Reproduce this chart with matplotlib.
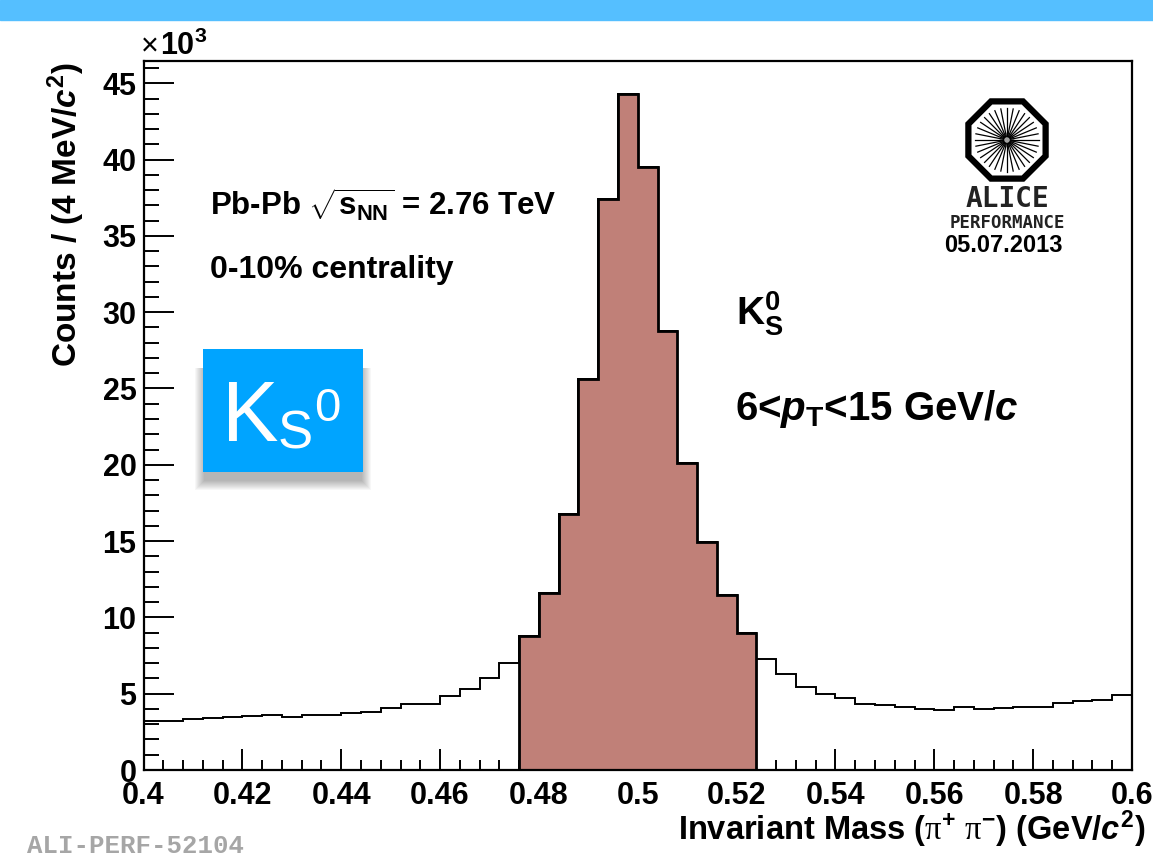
import numpy as np
import matplotlib
matplotlib.use("Agg")
import matplotlib.pyplot as plt
from matplotlib import patches

plt.rcParams['font.family'] = ['Liberation Sans', 'DejaVu Sans']
plt.rcParams['mathtext.fontset'] = 'custom'
plt.rcParams['mathtext.rm'] = 'Liberation Sans:bold'
plt.rcParams['mathtext.bf'] = 'Liberation Sans:bold'
plt.rcParams['mathtext.it'] = 'Liberation Sans:italic:bold'
plt.rcParams['mathtext.sf'] = 'Liberation Serif'

# histogram: invariant mass 0.4 - 0.6 GeV/c2, 4 MeV bins, counts in units of 10^3
mass_lo = 0.4
mass_hi = 0.6
n_bins = 50
counts = [3.21, 3.23, 3.32, 3.38, 3.45, 3.51, 3.60, 3.50, 3.60, 3.60,
          3.76, 3.82, 4.08, 4.32, 4.32, 4.85, 5.31, 6.03, 6.99, 8.80,
          11.58, 16.8, 25.65, 37.42, 44.3, 39.5, 28.78, 20.14, 14.95, 11.44,
          8.95, 7.29, 6.29, 5.44, 5.00, 4.70, 4.32, 4.24, 4.15, 4.02,
          3.95, 4.13, 4.00, 4.08, 4.15, 4.13, 4.41, 4.50, 4.59, 4.94]
# signal window (filled bins)
sig_first, sig_last = 19, 30

W, H = 1153, 866
fig = plt.figure(figsize=(W / 100, H / 100), dpi=100)

def fx(x):
    return x / W

def fy(y):
    return 1 - y / H

# top banner
fig.patches.append(patches.Rectangle((0, fy(20)), 1, 20 / H, transform=fig.transFigure,
                                     color='#55bfff', zorder=0))

ax = fig.add_axes([fx(143.5), fy(770), fx(1132) - fx(143.5), fy(61) - fy(770)])

edges = np.linspace(mass_lo, mass_hi, n_bins + 1)
counts = np.array(counts)
ax.stairs(counts, edges, color='black', lw=1.4, baseline=0)
ax.stairs(counts[sig_first:sig_last + 1], edges[sig_first:sig_last + 2],
          fill=True, color='#c08078', zorder=2)
ax.stairs(counts[sig_first:sig_last + 1], edges[sig_first:sig_last + 2],
          color='black', lw=2.0, zorder=3, baseline=0)

ax.set_xlim(mass_lo, mass_hi)
ax.set_ylim(0, 46.46)
ax.set_xticks(np.arange(0.40, 0.6001, 0.02))
ax.set_xticklabels(['0.4', '0.42', '0.44', '0.46', '0.48', '0.5', '0.52',
                    '0.54', '0.56', '0.58', '0.6'])
ax.set_xticks(np.arange(0.40, 0.6001, 0.004), minor=True)
ax.set_yticks(np.arange(0, 46, 5))
ax.set_yticks(np.arange(0, 47, 1), minor=True)
ax.tick_params(axis='both', which='both', direction='in', width=1.4,
               labelsize=22, top=False, right=False)
ax.tick_params(axis='x', which='major', length=15, pad=8)
ax.tick_params(axis='x', which='minor', length=7.5)
ax.tick_params(axis='y', which='major', length=21.5, pad=5)
ax.tick_params(axis='y', which='minor', length=11)
for lab in ax.get_xticklabels() + ax.get_yticklabels():
    lab.set_fontweight('bold')
for s in ax.spines.values():
    s.set_linewidth(1.6)

# axis titles
fig.text(fx(1145), fy(840), r"Invariant Mass ($\mathsf{\pi}^{+}$ $\mathsf{\pi}^{\mathrm{-}}$) (GeV/$c^{2}$)",
         ha='right', va='baseline', fontsize=23.5, fontweight='bold')
fig.text(fx(66), fy(62), r"Counts / (4 MeV/$c^{2}$)", rotation=90,
         ha='center', va='top', fontsize=24, fontweight='bold')
fig.text(fx(141), fy(55), "\u00d7", ha='left', va='baseline', fontsize=22)
fig.text(fx(160), fy(55), r"10$^{\mathrm{3}}$", ha='left', va='baseline',
         fontsize=22, fontweight='bold')

# labels inside
fig.text(fx(210), fy(216), r"Pb-Pb $\sqrt{\mathrm{s}_{\mathrm{NN}}}$ = 2.76 TeV",
         ha='left', va='baseline', fontsize=22.5, fontweight='bold')
fig.text(fx(210), fy(278), "0-10% centrality", ha='left', va='baseline',
         fontsize=23, fontweight='bold')
fig.text(fx(736), fy(325), r"K$^{\mathrm{0}}_{\mathrm{S}}$", ha='left', va='baseline',
         fontsize=28, fontweight='bold')
fig.text(fx(735), fy(420), r"6<$p_{\mathrm{T}}$<15 GeV/$c$", ha='left', va='baseline',
         fontsize=29, fontweight='bold')

# blue K0s badge with soft shadow (mostly below the box)
bx0, by0, bx1, by1 = 203, 349, 363, 472
for i in range(10):
    g = i * 1.0
    fig.patches.append(patches.Rectangle((fx(bx0 - g + 1), fy(by1 + 9 + g)),
                                         (bx1 - bx0 + 2 * g - 2) / W, (by1 - by0 - 10 + g) / H,
                                         transform=fig.transFigure, color='black',
                                         alpha=0.03, lw=0, zorder=4))
fig.patches.append(patches.Rectangle((fx(bx0), fy(by1)), (bx1 - bx0) / W, (by1 - by0) / H,
                                     transform=fig.transFigure, color='#00a4ff',
                                     lw=0, zorder=5))
fig.text(fx(222), fy(441), "K", ha='left', va='baseline', fontsize=61,
         color='white', zorder=6)
fig.text(fx(278), fy(448), "S", ha='left', va='baseline', fontsize=38,
         color='white', zorder=6)
fig.text(fx(314), fy(421), "0", ha='left', va='baseline', fontsize=34,
         color='white', zorder=6)

# ALICE logo
lax = fig.add_axes([fx(958), fy(184), 98 / W, 88 / H])
lax.set_xlim(-1.1, 1.1)
lax.set_ylim(-1.0, 1.0)
lax.set_aspect('equal')
lax.axis('off')
lax.add_patch(patches.RegularPolygon((0, 0), 8, radius=0.95, orientation=np.pi / 8,
                                     fill=False, lw=4.5, ec='black'))
for a in np.linspace(0, 2 * np.pi, 32, endpoint=False):
    lax.plot([0.08 * np.cos(a), 0.72 * np.cos(a)], [0.08 * np.sin(a), 0.72 * np.sin(a)],
             color='black', lw=0.9)
lax.add_patch(patches.Circle((0, 0), 0.15, color='#a0a0a0'))
fig.text(fx(1007), fy(207), "ALICE", ha='center', va='baseline', fontsize=20,
         family='DejaVu Sans Mono', fontweight='bold', color='#222222')
fig.text(fx(1007), fy(228), "PERFORMANCE", ha='center', va='baseline', fontsize=12.5,
         family='DejaVu Sans Mono', fontweight='bold', color='#222222')
fig.text(fx(1003), fy(252), "05.07.2013", ha='center', va='baseline', fontsize=17,
         fontweight='bold')

fig.text(fx(27), fy(853), "ALI-PERF-52104", ha='left', va='baseline', fontsize=18.5,
         family='Liberation Mono', fontweight='bold', color='#a6a6a6')

fig.savefig("out.png", dpi=100)
